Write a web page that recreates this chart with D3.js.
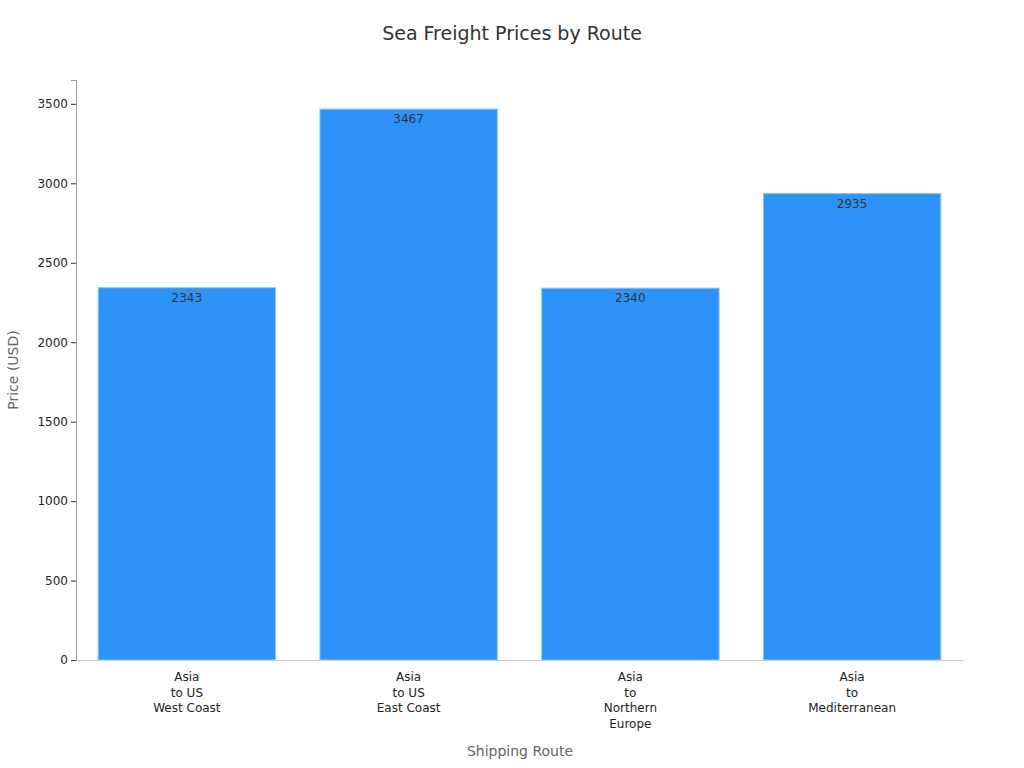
<!DOCTYPE html>
<html><head><meta charset="utf-8">
<script src="https://cdn.jsdelivr.net/npm/d3@7"></script>
<style>body{margin:0;background:#fff;font-family:"DejaVu Sans",sans-serif}</style>
</head><body><svg id="c" width="1024" height="768"></svg>
<script>
const categories=[["Asia","to US","West Coast"],["Asia","to US","East Coast"],["Asia","to","Northern","Europe"],["Asia","to","Mediterranean"]];
const values=[2343,3467,2340,2935];
const yTicks=[0,500,1000,1500,2000,2500,3000,3500];
const svg=d3.select("#c");
const m={l:76,r:963,t:80,b:660};
const x=d3.scaleBand().domain(d3.range(values.length)).range([m.l,m.r]).paddingInner(0.2).paddingOuter(0.1);
const y=d3.scaleLinear().domain([0,3650]).range([m.b,m.t]);
svg.append("text").attr("x",512).attr("y",40).attr("text-anchor","middle").attr("font-size",19).attr("fill","#333").text("Sea Freight Prices by Route");
const ya=svg.append("g").attr("transform",`translate(${m.l},0)`).call(d3.axisLeft(y).tickValues(yTicks).tickSize(5).tickFormat(d3.format("d")));
ya.select(".domain").attr("stroke","#999");ya.selectAll(".tick line").attr("stroke","#333");
ya.selectAll("text").attr("font-size",12).attr("fill","#222").attr("font-family","DejaVu Sans");
svg.selectAll("rect.b").data(values).join("rect").attr("class","b")
 .attr("x",(d,i)=>x(i)).attr("y",d=>y(d)).attr("width",x.bandwidth()).attr("height",d=>y(0)-y(d))
 .attr("fill","#2E93F8").attr("stroke","#8cc4fb").attr("stroke-width",1);
svg.selectAll("text.v").data(values).join("text").attr("class","v")
 .attr("x",(d,i)=>x(i)+x.bandwidth()/2).attr("y",d=>y(d)+14).attr("text-anchor","middle").attr("font-size",12).attr("fill","#333").text(d=>d);
const xa=svg.append("g").attr("transform",`translate(0,${m.b})`).call(d3.axisBottom(x).tickSize(0).tickFormat(""));
xa.select(".domain").attr("stroke","#ccc");
categories.forEach((lines,i)=>{
 const t=svg.append("text").attr("text-anchor","middle").attr("font-size",12).attr("fill","#222");
 lines.forEach((s,j)=>t.append("tspan").attr("x",x(i)+x.bandwidth()/2).attr("y",681+j*15.5).text(s));
});
svg.append("text").attr("x",520).attr("y",756).attr("text-anchor","middle").attr("font-size",14).attr("fill","#666").text("Shipping Route");
svg.append("text").attr("transform","translate(18,370) rotate(-90)").attr("text-anchor","middle").attr("font-size",14).attr("fill","#666").text("Price (USD)");
</script></body></html>
